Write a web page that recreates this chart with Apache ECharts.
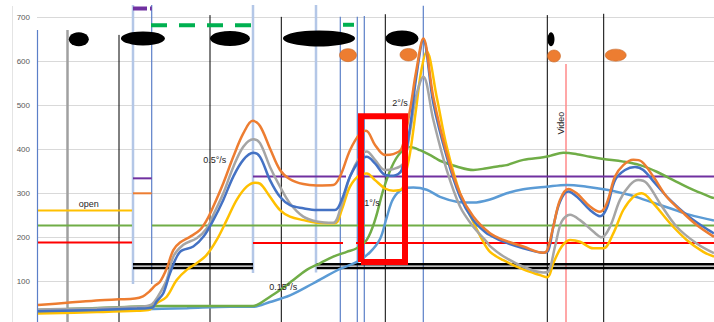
<!DOCTYPE html>
<html><head><meta charset="utf-8">
<script src="https://cdn.jsdelivr.net/npm/echarts@6/dist/echarts.min.js"></script>
<style>html,body{margin:0;padding:0;background:#fff}#c{width:714px;height:322px}</style>
</head><body><div id="c"></div>
<script>
// ---- data (x = time units, y = value) ----
const yTicks = [100, 200, 300, 400, 500, 600, 700];
const orangeData = [[1,46],[30,51],[63,57],[82,59],[98,61],[106,66],[112,76],[118,90],[123,99],[129.7,129],[136.3,171],[143,188],[153,201],[163,217],[169.7,239],[176.3,270],[186.3,323],[196.3,383],[206.3,436],[215.7,465],[223,453],[233,402],[243,353],[253,332],[266.3,321],[279.7,318],[296.3,319],[303,338],[313,398],[323,436],[329,442],[338,410],[348,387],[356.3,389],[364.7,402],[373,490],[379,575],[386.3,652],[396.3,519],[409.7,391],[423,300],[436.3,247],[453,209],[466.3,194],[486.3,179],[506.3,165],[510.3,171],[516.3,224],[523,285],[531.3,310],[539.7,300],[553,270],[563,258],[569.7,277],[578,338],[586.3,364],[596.3,376],[604.7,372],[616.3,338],[629.7,292],[646.3,255],[659.7,228],[677,201]];
const greyData = [[1,36],[60,39],[100,42],[110,44],[115,48],[119.7,61],[129.7,103],[136.3,156],[146.3,183],[159.7,198],[169.7,220],[176.3,251],[186.3,300],[196.3,360],[206.3,406],[216.3,423],[223,414],[233,360],[243,315],[253,277],[266.3,247],[279.7,236],[296.3,233],[303,262],[313,338],[323,383],[329.7,395],[338,376],[348,353],[356.3,355],[366.3,368],[373,440],[379,520],[386.3,565],[396.3,467],[409.7,353],[423,270],[436.3,224],[449.7,190],[453,180],[466.3,157],[486.3,133],[506.3,120],[511.3,122],[518,179],[524.7,236],[533,251],[543,239],[556.3,213],[564.7,200],[573,224],[583,285],[593,319],[601.3,330],[609.7,323],[623,277],[639.7,224],[659.7,186],[677,164]];
const blueData = [[1,32],[60,35],[100,38],[115,40],[119.7,54],[126.3,73],[133,118],[143,167],[156.3,179],[166.3,201],[176.3,239],[186.3,285],[196.3,338],[206.3,376],[216.3,392],[223,383],[233,330],[243,292],[253,273],[266.3,266],[279.7,262],[298,262],[304.7,285],[313,338],[323,376],[329.7,383],[338,368],[348,342],[356.3,340],[364.7,353],[373,450],[379,560],[386.3,648],[396.3,505],[409.7,383],[423,292],[436.3,239],[449.7,209],[453,205],[466.3,190],[486.3,175],[506.3,165],[511.3,170],[516.3,224],[523,281],[531.3,304],[541.3,289],[553,262],[563,248],[569.7,266],[578,330],[588,353],[598,360],[606.3,353],[618,323],[633,285],[649.7,251],[666.3,224],[677,209]];
const yellowData = [[1,27],[60,30],[100,33],[113,36],[119.7,50],[129.7,65],[139.7,103],[149.7,126],[159.7,141],[169.7,160],[179.7,194],[189.7,239],[199.7,285],[209.7,315],[218,324],[223,322],[233,292],[243,262],[253,247],[266.3,239],[279.7,233],[298,232],[304.7,262],[313,315],[323,342],[329.7,345],[338,330],[348,311],[356.3,306],[364.7,309],[368,338],[373,391],[379,490],[384,575],[389.7,622],[399.7,519],[409.7,406],[423,300],[436.3,235],[445,195],[453,167],[466.3,148],[486.3,127],[503,114],[510.3,109],[516.3,141],[524.7,179],[533,194],[543,190],[556.3,175],[566.3,175],[576.3,209],[586.3,262],[596.3,292],[604.7,300],[616.3,277],[633,232],[649.7,194],[666.3,167],[677,156]];
const greenData = [[1,35],[30,37],[80,41],[123,44],[216,44],[223,50],[233,65],[243,80],[256.3,103],[269.7,126],[283,141],[296.3,156],[309.7,167],[319.7,175],[329.7,194],[338,239],[346.3,308],[354.7,360],[363,391],[373,405],[383,398],[396.3,383],[403,374],[419.7,361],[436.3,353],[449.7,357],[463,362],[469.7,364],[486.3,376],[506.3,382],[513,385],[526.3,392],[539.7,389],[553,383],[566.3,378],[586.3,372],[603,364],[619.7,349],[636.3,330],[653,311],[673,292],[677,289]];
const lightBlueData = [[1,31],[60,33],[100,36],[150,39],[193,42],[216,42],[233,53],[253,68],[276,95],[303,128],[320,144],[333,166],[343,196],[349.7,245],[356.3,288],[366.3,310],[376.3,313],[389.7,308],[403,292],[419.7,281],[436.3,279],[453,286],[469.7,300],[486.3,309],[509.7,315],[529.7,319],[549.7,315],[569.7,308],[593,296],[613,281],[633,266],[653,251],[677,238]];

// vertical markers: x, top, bottom
const blueMarkX = [0.5, 114.7, 303.3, 320.3, 327.3, 386.3];
const blueMarkTop = [671, 728, 701, 701, 703, 726];
const blueMarkBottom = [-10, 94, -10, -10, -10, -10];
const paleMarkX = [96, 216, 279];
const paleMarkTop = [728, 728, 728];
const paleMarkBottom = [94, 119, 120];
const blackMarkX = [82, 173, 244.3, 348.3, 510.3, 566.7];
const blackMarkTop = [660, 705, 701, 707, 705, 708];
const greyMarkX = [30.5];
const greyMarkTop = [671];
const videoMarkX = [529];
const videoMarkTop = [594];

// horizontal levels: [x0, x1, y]
const openLevel = [[1, 95, 261]];
const greenLevel = [[1, 95, 227], [115, 677, 227]];
const redLevel = [[1, 95, 188], [216, 306, 187], [319, 677, 187]];
const purpleLevel = [[96, 114.7, 334], [216, 309, 338], [320, 677, 338]];
const orangeLevel = [[96, 114.7, 300]];
const blackLevelHigh = [[96, 216, 139], [279.7, 677, 139]];
const blackLevelLow = [[96, 216, 130], [279.7, 677, 130]];
const purpleTop = [[96, 110, 720], [113, 114.7, 720]];
const greenTopDashed = [[114, 215, 682]];
const greenTopSolid = [[306, 317, 683]];

// ellipse markers
const blackBlobX = [41.8, 106, 193, 282, 365, 514];
const blackBlobY = [650, 652, 652, 652, 652, 650];
const orangeBlobX = [311, 371.5, 517, 578.7];
const orangeBlobY = [614, 615, 612, 614];

// highlight box
const boxX = [324, 368];
const boxY = [144, 475];

// annotations
const noteText = ['open', '0.5°/s', '2°/s', '1°/s', '0.15°/s', 'Video'];
const noteX = [51.7, 177.7, 363, 335, 246.3, 524];
const noteY = [274.8, 375.7, 505, 278, 88, 459.5];

// ---- styles ----
const blackBlobSize = [[20,14],[44,14],[40,15],[72,16],[33,16],[7,14]];
const orangeBlobSize = [[17,13],[17,12.5],[13,12],[21,12]];

const series = [];
function seg(pts, color, width, z, dash) {
  series.push({type:'line', data: pts, symbol:'none', silent:true, clip:false, z: z,
    lineStyle:{color: color, width: width, type: dash || 'solid', cap:'butt', opacity:1}, animation:false});
}
function vLines(xs, tops, bottoms, color, width, z) {
  xs.forEach((x, i) => seg([[x, bottoms ? bottoms[i] : -10], [x, tops[i]]], color, width, z));
}
function hLines(list, color, width, z, dash) {
  list.forEach(s => seg([[s[0], s[2]], [s[1], s[2]]], color, width, z, dash));
}
vLines(paleMarkX, paleMarkTop, paleMarkBottom, '#b4c7e7', 2.5, 1);
vLines(blueMarkX, blueMarkTop, blueMarkBottom, '#5b7fc8', 1.2, 1);
vLines(blackMarkX, blackMarkTop, null, '#000000', 1, 1);
vLines(greyMarkX, greyMarkTop, null, '#a0a0a0', 2.5, 1);
vLines(videoMarkX, videoMarkTop, null, '#ff8a8a', 1.5, 1);
hLines(openLevel, '#ffc000', 2, 2);
hLines(greenLevel, '#70ad47', 2, 2);
hLines(redLevel, '#ff0000', 2, 2);
hLines(purpleLevel, '#7030a0', 2, 2);
hLines(orangeLevel, '#ed7d31', 2, 2);
hLines(blackLevelHigh, '#000000', 2.5, 2);
hLines(blackLevelLow, '#000000', 2.5, 2);
hLines(purpleTop, '#7030a0', 4, 2);
hLines(greenTopDashed, '#00b050', 4, 2, [16, 12]);
hLines(greenTopSolid, '#00b050', 4, 2);

const curves = [
  [lightBlueData, '#5b9bd5'], [greenData, '#70ad47'], [yellowData, '#ffc000'],
  [greyData, '#a5a5a5'], [blueData, '#4472c4'], [orangeData, '#ed7d31']
];
curves.forEach(c => series.push({type:'line', data:c[0], symbol:'none', smooth:0.35, silent:true, z:3,
  lineStyle:{color:c[1], width:2.5}, animation:false}));

// highlight box
seg([[boxX[0],boxY[0]],[boxX[1],boxY[0]],[boxX[1],boxY[1]],[boxX[0],boxY[1]],[boxX[0],boxY[0]]], '#ff0000', 6, 5);
series[series.length-1].lineStyle.join = 'miter';

series.push({type:'scatter', z:6, silent:true, clip:false, animation:false,
  data: blackBlobX.map((x,i)=>({value:[x, blackBlobY[i]], symbolSize: blackBlobSize[i]})),
  symbol:'circle', itemStyle:{color:'#000000', opacity:1}});
series.push({type:'scatter', z:6, silent:true, clip:false, animation:false,
  data: orangeBlobX.map((x,i)=>({value:[x, orangeBlobY[i]], symbolSize: orangeBlobSize[i]})),
  symbol:'circle', itemStyle:{color:'#ed7d31', opacity:1, borderColor:'#c8692a', borderWidth:0.6}});
series.push({type:'scatter', z:7, silent:true, clip:false, animation:false, symbolSize:0,
  itemStyle:{opacity:1},
  data: noteText.map((t,i)=>({value:[noteX[i], noteY[i]], name:t,
    label:{show:true, position:'inside', formatter:t, rotate: t==='Video' ? 90 : 0,
      color:'#262626', fontSize:9, fontFamily:'Liberation Sans'}}))});

const chart = echarts.init(document.getElementById('c'), null, {renderer:'svg'});
chart.setOption({
  animation:false,
  backgroundColor:'#ffffff',
  grid:{left:37, right:0, top:17.3, bottom:-3.3, containLabel:false, outerBoundsMode:'none'},
  xAxis:{type:'value', min:0, max:677, show:false},
  yAxis:{type:'value', min:0, max:700, interval:100,
    axisLine:{show:false}, axisTick:{show:false},
    axisLabel:{color:'#595959', fontSize:8, margin:7, fontFamily:'Liberation Sans',
      formatter: v => yTicks.includes(v) ? String(v) : ''},
    splitLine:{lineStyle:{color:'#d9d9d9', width:1}}},
  graphic:[{type:'line', shape:{x1:12.5, y1:6, x2:12.5, y2:322}, style:{stroke:'#e4e4e4', lineWidth:1}, silent:true}],
  series: series
});
</script></body></html>
